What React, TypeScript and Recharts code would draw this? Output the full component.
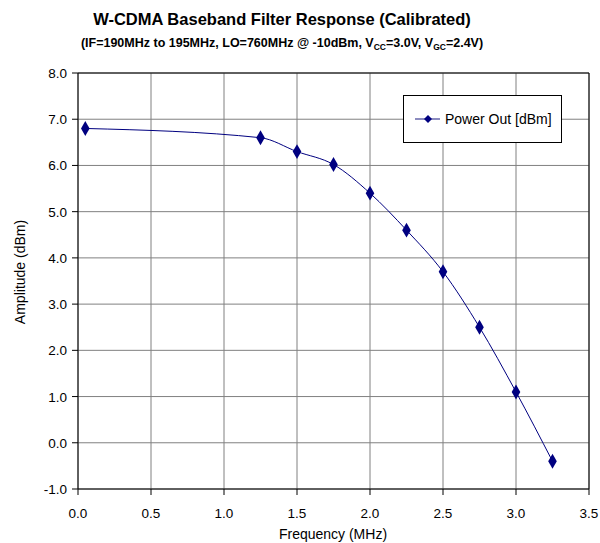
import React from 'react';
import { ComposedChart, Line, Scatter, XAxis, YAxis, CartesianGrid, ReferenceLine, Customized } from 'recharts';

// W-CDMA baseband filter response, power out vs frequency
const freqMHz = [0.05, 1.25, 1.5, 1.75, 2.0, 2.25, 2.5, 2.75, 3.0, 3.25];
const powerOut = [6.8, 6.6, 6.3, 6.02, 5.4, 4.6, 3.7, 2.5, 1.1, -0.4];

const xTicks = [0, 0.5, 1.0, 1.5, 2.0, 2.5, 3.0, 3.5];
const yTicks = [-1, 0, 1, 2, 3, 4, 5, 6, 7, 8];

const data = freqMHz.map((f, i) => ({ f, p: powerOut[i] }));

const FONT = '"Liberation Sans", Arial, sans-serif';
const NAVY = '#000080';

const XTick = (props: any) => {
  const { x, y, payload } = props;
  return (
    <text x={x} y={y + 21} textAnchor="middle" fontSize={13.5} fill="#000" fontFamily={FONT}>
      {Number(payload.value).toFixed(1)}
    </text>
  );
};

const YTick = (props: any) => {
  const { x, y, payload } = props;
  return (
    <text x={x - 3} y={y + 5} textAnchor="end" fontSize={13.5} fill="#000" fontFamily={FONT}>
      {Number(payload.value).toFixed(1)}
    </text>
  );
};

// titles, axis titles and the legend box
const Decor = () => (
  <g fontFamily={FONT} fill="#000">
    <text x={282} y={25} textAnchor="middle" fontSize={16.5} fontWeight="bold">
      W-CDMA Baseband Filter Response (Calibrated)
    </text>
    <text x={282} y={47} textAnchor="middle" fontSize={12.5} fontWeight="bold">
      (IF=190MHz to 195MHz, LO=760MHz @ -10dBm, V
      <tspan fontSize={8.5} dy={3}>CC</tspan>
      <tspan dy={-3}>=3.0V, V</tspan>
      <tspan fontSize={8.5} dy={3}>GC</tspan>
      <tspan dy={-3}>=2.4V)</tspan>
    </text>
    <text x={333} y={539} textAnchor="middle" fontSize={14}>Frequency (MHz)</text>
    <text x={25} y={272} transform="rotate(-90, 25, 272)" textAnchor="middle" fontSize={14}>Amplitude (dBm)</text>
    <rect x={403.5} y={95.5} width={158} height={47} fill="#fff" stroke="#000" />
    <path d="M415,119 L440,119" stroke="#6666aa" strokeWidth={1.5} />
    <path d="M428,115 L432,119 L428,123 L424,119 Z" fill={NAVY} />
    <text x={445} y={124} fontSize={14}>Power Out [dBm]</text>
  </g>
);

export default function App() {
  return (
    <div style={{ position: 'absolute', left: 0, top: 0, width: 600, height: 543 }}>
      <ComposedChart width={600} height={543} data={data} margin={{ top: 73, right: 11, left: 0, bottom: 0 }}>
        <CartesianGrid stroke="#808080" />
        <XAxis type="number" dataKey="f" domain={[0, 3.5]} ticks={xTicks} height={54} stroke="#000" tick={<XTick />} />
        <YAxis type="number" domain={[-1, 8]} ticks={yTicks} width={78} stroke="#000" tick={<YTick />} />
        <ReferenceLine y={8} stroke="#000" />
        <ReferenceLine x={3.5} stroke="#000" />
        <Line type="monotone" dataKey="p" stroke={NAVY} dot={false} isAnimationActive={false} />
        <Scatter dataKey="p" shape="diamond" fill={NAVY} isAnimationActive={false} />
        <Customized component={Decor} />
      </ComposedChart>
    </div>
  );
}
